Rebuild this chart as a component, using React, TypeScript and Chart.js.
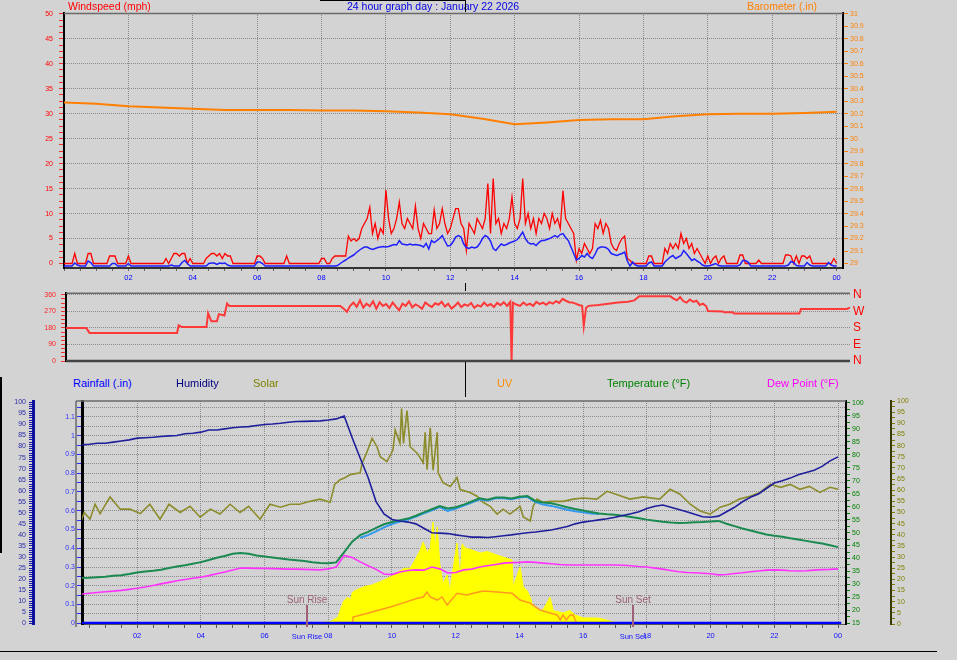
import React, { useEffect, useRef } from 'react';
import { Chart, registerables } from 'chart.js';

Chart.register(...registerables);

const FONT = '"Liberation Sans", Arial, Helvetica, sans-serif';
const BG = '#d3d3d3';
const GRID = '#8a8a8a';

// ---------------- Top panel: wind speed (mph), sampled every 5 minutes ----------------
const WIND_STEP_HOURS = 5 / 60;
const windGust = [
  0, 0, 0, 0, 2, 0, 0, 0, 0, 2, 2, 0,
  0, 0, 0, 0, 0, 1.5, 1.5, 1.5, 0, 0, 0, 0,
  1.5, 0, 0, 0, 0, 0, 0, 0, 0, 0, 0, 0,
  0, 0, 1, 0, 1, 2, 2, 1.5, 2, 2, 0, 1,
  0, 0, 0, 0, 0, 1, 1.5, 2, 2, 1.5, 2, 1,
  2, 1.5, 1.5, 0, 0, 0, 0, 0, 0, 0, 0, 0,
  1.5, 1.5, 1, 0, 0, 0, 0, 0, 0, 0, 0, 1.5,
  0, 0, 0, 0, 0, 0, 0, 0, 0, 0, 0, 0,
  1, 1, 0, 0, 1, 1.5, 1.5, 1.5, 1.5, 1.5, 5.5, 4.5,
  5, 4.5, 5, 7, 8, 9, 11.3, 6, 8, 5, 7, 6,
  14.7, 9, 6, 7, 9, 12.3, 8, 7, 9, 8, 7, 11.5,
  7, 5, 8, 7, 6, 6, 10.7, 7, 8, 11, 8, 6,
  7, 9, 11, 11, 8, 7, 2.6, 8, 7, 6, 9, 8,
  7, 9, 16, 6, 17, 8, 9, 6, 8, 7, 9, 13.3,
  8, 7, 9, 17, 8, 10, 7, 9, 6, 9, 8, 10,
  9, 7, 10, 8, 9, 7, 14.6, 9, 8, 7, 6, 0.6,
  3, 2, 4, 3, 2, 3, 8, 7, 8.6, 6, 8, 7,
  4, 3, 2.6, 4, 5, 5.5, 1, 0.6, 0, 0, 0, 0,
  0, 0, 1.5, 1.5, 0, 0, 0, 0, 3, 2, 4, 3,
  4, 3, 6, 4, 5, 3, 4, 2, 3, 2, 1, 0,
  1.5, 0, 1, 1.5, 0, 1, 1.5, 0, 0, 0, 0, 0,
  1.7, 1.7, 0, 0, 0, 0, 0, 0.7, 0, 0, 0, 0,
  0, 0, 0, 0, 0, 1.7, 1.7, 1.5, 0, 1.5, 0, 1.5,
  1.5, 1, 1.5, 0, 0, 0, 0, 0, 0, 0, 0, 1,
  0,
];
const windAverage = [
  -0.5, -0.5, -0.5, -0.5, 0.1, -0.3, -0.5, -0.5, -0.5, 0.5, 0.2, -0.5,
  -0.5, -0.5, -0.5, -0.5, -0.5, -0.5, 0, 0, -0.5, -0.5, -0.5, -0.5,
  0, -0.5, -0.5, -0.5, -0.5, -0.5, -0.5, -0.5, -0.5, -0.5, -0.5, -0.5,
  -0.5, -0.5, -0.5, -0.5, -0.3, -0.5, -0.5, -0.5, 0.2, 0.6, 0, -0.5,
  -0.5, -0.5, -0.5, -0.5, -0.5, -0.5, 0, 0.1, 0.1, -0.2, 0.1, 0,
  0.1, -0.3, -0.5, -0.5, -0.5, -0.5, -0.5, -0.5, -0.5, -0.5, -0.5, -0.5,
  0.3, 0.3, 0, -0.5, -0.5, -0.5, -0.5, -0.5, -0.5, -0.5, -0.5, -0.5,
  -0.5, -0.5, -0.5, -0.5, -0.5, -0.5, -0.5, -0.5, -0.5, -0.5, -0.5, -0.5,
  -0.5, -0.5, -0.5, -0.5, -0.5, -0.5, -0.4, 0, 0.4, 0.7, 1.1, 1.4,
  1.7, 2.2, 2.6, 3, 3.3, 3.3, 3, 2.8, 3, 3.2, 3.3, 3.4,
  3.3, 3.4, 3.6, 3.8, 3.7, 4.6, 3.9, 3.8, 3.7, 3.9, 3.7, 3.8,
  3.7, 3.6, 3.3, 4.0, 2.9, 4.6, 4.2, 4.6, 5.0, 5.6, 4.5, 3.5,
  3.6, 4.3, 5.3, 5.6, 5.3, 3.9, 3.2, 3.0, 3.3, 3.1, 3.3, 4.0,
  5.0, 5.6, 5.3, 4.5, 3.0, 2.6, 3.3, 3.9, 3.6, 3.8, 4.1, 4.3,
  4.5, 4.8, 5.5, 6.3, 5.0, 4.2, 3.9, 4.0, 3.6, 4.2, 4.6, 4.6,
  4.8, 5.0, 5.3, 5.6, 5.3, 5.8, 6.0, 5.2, 4.6, 3.3, 2.0, 0.7,
  1.0, 1.6, 1.3, 2.0, 1.3, 1.0, 1.9, 3.0, 3.3, 3.3, 3.2, 2.8,
  2.0, 1.8, 1.6, 1.8, 2.0, 2.3, 0.5, -0.5, 0.3, -0.3, -0.5, -0.5,
  -0.5, -0.5, 0.1, 0.3, -0.5, -0.5, -0.5, -0.5, 0.3, 0.8, 1.3, 1.6,
  1.0, 1.3, 1.6, 2.6, 2.0, 1.3, 0.6, 0.9, 0.5, 0.2, -0.3, -0.5,
  -0.5, -0.4, -0.2, 0, -0.4, -0.5, -0.5, -0.5, -0.5, -0.5, -0.5, -0.5,
  -0.3, 0.6, 0.6, 0.3, -0.5, -0.5, -0.5, -0.5, -0.5, -0.5, -0.5, -0.5,
  -0.5, -0.5, -0.5, -0.5, -0.5, -0.5, -0.3, 0.4, 0.2, -0.4, -0.5, -0.5,
  -0.5, 0.2, -0.3, -0.5, -0.5, -0.5, -0.5, -0.5, -0.5, 0.2, -0.3, -0.5,
  -0.5,
];
// Barometer (in), hourly
const baroHours = [0, 1, 2, 3, 4, 5, 6, 7, 8, 9, 10, 11, 12, 13, 14, 15, 16, 17, 18, 19, 20, 21, 22, 23, 24];
const baroInches = [30.29, 30.28, 30.26, 30.25, 30.24, 30.23, 30.23, 30.23, 30.225, 30.225, 30.22, 30.21, 30.195, 30.16, 30.115, 30.13, 30.15, 30.155, 30.155, 30.18, 30.195, 30.2, 30.2, 30.205, 30.215];

// ---------------- Middle panel: wind direction (degrees) [hour, deg] ----------------
const windDirection: [number, number][] = [
  [0, 180], [0.62, 180], [0.72, 153], [3.4, 153], [3.45, 195], [3.55, 185], [4.3, 185], [4.35, 260], [4.45, 216], [4.62, 216], [4.68, 255], [4.85, 248], [4.93, 313], [5.0, 300], [8.4, 300],
  [8.5, 285], [8.6, 268], [8.7, 300], [8.8, 318], [8.9, 295], [9.0, 330], [9.1, 290], [9.2, 312], [9.3, 298], [9.4, 325], [9.5, 285], [9.6, 320], [9.7, 300], [9.8, 310], [9.9, 288],
  [10.0, 318], [10.1, 296], [10.2, 276], [10.3, 312], [10.4, 300], [10.5, 325], [10.6, 292], [10.7, 308], [10.8, 298], [10.9, 284],
  [11.0, 318], [11.1, 304], [11.2, 294], [11.3, 314], [11.4, 306], [11.5, 322], [11.6, 296], [11.7, 312], [11.8, 286], [11.9, 300],
  [12.0, 318], [12.1, 294], [12.2, 308], [12.3, 300], [12.4, 316], [12.5, 290], [12.6, 304], [12.7, 296], [12.8, 318], [12.9, 300],
  [13.0, 310], [13.1, 294], [13.2, 316], [13.3, 304], [13.4, 320], [13.5, 300], [13.6, 322], [13.64, 0], [13.68, 318], [13.8, 306], [13.9, 300],
  [14.0, 318], [14.1, 304], [14.2, 312], [14.3, 300], [14.4, 322], [14.5, 310], [14.6, 318], [14.7, 306], [14.8, 320], [14.9, 312],
  [15.0, 326], [15.1, 316], [15.2, 338], [15.3, 328], [15.4, 320], [15.5, 318], [15.6, 312], [15.7, 305], [15.8, 300], [15.85, 190], [15.92, 290],
  [16.0, 300], [16.3, 305], [16.6, 312], [16.9, 318], [17.2, 322], [17.4, 330], [17.55, 352], [18.5, 352], [18.6, 340], [18.7, 330], [18.8, 348], [18.9, 325],
  [19.0, 318], [19.1, 335], [19.2, 322], [19.3, 328], [19.4, 305], [19.5, 312], [19.6, 298], [19.65, 272], [20.1, 270], [20.15, 265], [20.4, 265], [20.45, 258],
  [22.45, 258], [22.5, 283], [23.9, 283], [24.0, 290],
];

// ---------------- Bottom panel ----------------
const BOTTOM_START = 0.25;
const BOTTOM_STEP = 0.25;
const humidity = [
  80.7, 81, 81.5, 81.5, 82, 82.5, 83, 83.8,
  84, 84.2, 84.5, 84.8, 85, 85.8, 86, 86.5,
  87.5, 87.5, 88, 88.5, 88.8, 89, 89.5, 90,
  90.2, 90.5, 91, 91.3, 91.4, 91.5, 91.6, 92,
  92.5, 93.8, 84, 74.8, 66, 55, 49.5, 47,
  46.3, 45.8, 45, 43, 41, 40.8, 40.6, 40,
  39.5, 39, 39, 38.8, 39.2, 39.6, 40, 40.5,
  41, 41.3, 41.8, 42.2, 43, 43.8, 45, 45.8,
  46.3, 46.8, 47.3, 48, 48.8, 49.6, 50.5, 52,
  53, 53.5, 52.5, 51.5, 50.5, 49.3, 48.2, 48,
  48.5, 50.5, 52.5, 55, 57, 58.5, 61, 63.5,
  64.5, 65.7, 67.2, 68.2, 69.3, 71, 73.5, 75.3,
];
const temperature = [
  32.5, 32.6, 32.8, 33, 33.3, 33.5, 34, 34.6,
  35, 35.3, 35.7, 36.3, 36.9, 37.4, 38, 38.6,
  39.4, 40.3, 41, 41.8, 42.1, 41.8, 41.2, 40.8,
  40.4, 40, 39.6, 39.3, 39, 38.6, 38.3, 38.2,
  38.5, 42.5, 46.5, 49, 50.3, 51.8, 53.2, 54.1,
  54.8, 55.4, 56.5, 57.8, 59, 60.2, 59.3, 59.8,
  60.8, 62, 63.2, 62.7, 63.5, 63.5, 63.2, 63.8,
  64.1, 62.2, 61.6, 61.3, 60.6, 59.8, 59.1, 58.5,
  57.9, 57.4, 57.1, 56.9, 56.5, 56, 55.5, 55,
  54.6, 54.2, 53.9, 53.7, 53.8, 54, 54.1, 54.3,
  54.5, 53.4, 52.5, 51.6, 50.8, 50, 49.3, 48.8,
  48.4, 47.8, 47.3, 46.8, 46.3, 45.8, 45.1, 44.4,
];
const dewPoint = [
  26.3, 26.6, 26.9, 27.2, 27.4, 27.7, 28.1, 28.5,
  29, 29.6, 30.2, 30.8, 31.4, 31.9, 32.4, 32.8,
  33.4, 34.1, 34.8, 35.6, 36.3, 36.3, 36.2, 36.2,
  36.1, 36, 35.9, 35.9, 35.8, 35.7, 35.6, 36,
  36.7, 41.2, 40.4, 38.7, 37.2, 35.8, 34, 33.8,
  34.8, 35.4, 35.6, 35.5, 36.7, 36, 34.4, 34.6,
  35.6, 35.9, 36.7, 37.2, 37.7, 38.2, 38.4, 38.5,
  38.7, 38.5, 38.2, 38, 37.7, 37.5, 37.5, 37.5,
  37.5, 37.5, 37.5, 37.5, 37.4, 37.2, 36.9, 36.7,
  36.3, 35.9, 35.4, 34.9, 34.6, 34.5, 34.3, 34.1,
  33.7, 33.8, 34.2, 34.5, 34.9, 35.2, 35.5, 35.6,
  35.5, 35.3, 35.2, 35.3, 35.5, 35.7, 35.8, 36,
];
const feelsLike: [number, number][] = [
  [9.0, 48], [9.25, 49], [9.5, 50.5], [9.75, 52], [10.0, 53.3], [10.25, 54.3], [10.5, 55], [10.75, 56.2], [11.0, 57.4], [11.25, 58.6],
  [11.5, 59.8], [11.75, 58.4], [12.0, 59.3], [12.25, 60.4], [12.5, 61.6], [12.75, 62.8], [13.0, 62.4], [13.25, 63.2], [13.5, 63.2], [13.75, 62.9],
  [14.0, 63.5], [14.25, 63.8], [14.5, 61.8], [14.75, 60.8], [15.0, 60.3], [15.25, 59.6], [15.5, 58.8], [15.75, 58.2], [16.0, 57.8], [16.25, 57.4], [16.5, 57.2],
];
const olivePercent: [number, number][] = [
  [0.21, 44.8], [0.34, 50], [0.52, 47], [0.68, 53.7], [0.84, 49.5], [1.15, 57], [1.47, 51.5], [1.78, 51.5], [2.1, 49.5], [2.4, 53.7],
  [2.72, 47], [3.0, 53.7], [3.35, 50], [3.66, 52.8], [3.98, 47.9], [4.3, 51.5], [4.6, 49.3], [4.92, 53.7], [5.23, 50], [5.5, 52.8],
  [5.86, 47], [6.17, 53.7], [6.5, 52.4], [6.8, 53.7], [7.1, 53.7], [7.43, 55], [7.74, 56], [8.06, 54.6], [8.2, 62.6], [8.37, 64.7],
  [8.52, 65.6], [8.69, 67], [9.0, 67.8], [9.06, 72], [9.2, 76.6], [9.375, 83.3], [9.53, 79.5], [9.63, 75], [9.84, 72.8], [10.03, 78],
  [10.1, 87], [10.25, 81], [10.3, 96.6], [10.36, 81], [10.47, 95.7], [10.57, 79.5], [10.79, 76.6], [10.98, 72.3], [11.04, 86], [11.1, 69.2],
  [11.2, 88], [11.29, 69], [11.42, 86], [11.45, 67.8], [11.6, 63.4], [11.83, 61.7], [12.04, 65.7], [12.14, 60.3], [12.45, 59], [12.67, 57.3],
  [12.86, 54.6], [13.08, 52.8], [13.3, 49.3], [13.49, 51.5], [13.7, 49.3], [14.02, 52.8], [14.12, 48], [14.34, 46.2], [14.43, 52.8], [14.55, 56],
  [14.74, 54.6], [14.96, 55], [15.37, 55], [15.69, 56], [16.0, 56.5], [16.43, 56], [16.75, 59.5], [17.07, 58], [17.47, 56], [17.88, 57],
  [18.4, 56], [18.73, 60.4], [19.04, 58.2], [19.36, 53.7], [19.67, 50.7], [19.98, 49.3], [20.3, 52.4], [20.6, 53.7], [20.9, 56], [21.24, 57.3],
  [21.55, 59], [21.87, 62.6], [22.2, 61.3], [22.5, 62.6], [22.8, 60.4], [23.1, 61.7], [23.43, 59], [23.75, 61.3], [24.0, 60.4],
];
const solar: [number, number][] = [
  [7.1, 0], [7.65, 0.5], [8.06, 1], [8.3, 3], [8.47, 10], [8.6, 12], [8.7, 11], [8.75, 14], [8.84, 15], [9.0, 16],
  [9.1, 16.6], [9.2, 17], [9.37, 17.5], [9.63, 19], [9.94, 21], [10.15, 23], [10.4, 25], [10.57, 25], [10.7, 28], [10.88, 33],
  [10.98, 36.8], [11.1, 32], [11.2, 34], [11.29, 45.7], [11.35, 33], [11.42, 43.5], [11.5, 27], [11.6, 18], [11.73, 22], [11.82, 15],
  [11.92, 25], [12.04, 36.3], [12.14, 20], [12.2, 36], [12.3, 34], [12.45, 33.5], [12.77, 31.8], [12.99, 32.5], [13.3, 30.9], [13.49, 30],
  [13.7, 29], [13.77, 28.7], [13.8, 16.6], [14.02, 25.5], [14.12, 16.6], [14.24, 15], [14.34, 12], [14.43, 7.6], [14.65, 6], [14.74, 6.3],
  [14.96, 12], [15.06, 6], [15.37, 5], [15.59, 6], [15.75, 4], [16.0, 2.7], [16.43, 2.7], [16.68, 2], [16.94, 0.9], [17.16, 0.3], [17.3, 0],
];
const uvIndex: [number, number][] = [
  [8.75, 0], [8.78, 0.5], [9.2, 0.75], [9.6, 1.0], [10.0, 1.25], [10.4, 1.55], [10.8, 1.85], [10.98, 1.94], [11.1, 2.3], [11.2, 1.94],
  [11.42, 1.72], [11.57, 1.94], [11.73, 1.36], [12.04, 2.2], [12.35, 2.08], [12.55, 2.2], [12.86, 2.37], [13.3, 2.3], [13.77, 2.2], [14.02, 1.72],
  [14.34, 1.5], [14.65, 1.0], [14.96, 0.79], [15.18, 0.65], [15.28, 0.29], [15.37, 0.65], [15.47, 0.29], [15.59, 0.65], [15.69, 0.65], [15.8, 0],
];
const rainfall: [number, number][] = [[0.25, 0], [24.1, 0]];
const SUNRISE_HOUR = 7.33;
const SUNSET_HOUR = 17.56;

// ---------------- helpers ----------------
const isMult = (v: number, m: number) => Math.abs(v / m - Math.round(v / m)) < 1e-6;
const fromGrid = (arr: number[], start: number, step: number) => arr.map((v, i) => ({ x: start + i * step, y: v }));
const fromPairs = (arr: [number, number][]) => arr.map(([x, y]) => ({ x, y }));
const evenHour = (v: any) => typeof v === 'number' && v > 0.01 && isMult(v, 2);
const hourLabel = (v: any) => (evenHour(v) ? String(Math.round(v) % 24).padStart(2, '0') : '');
const tickFont = { family: FONT, size: 7 };
const clear = 'rgba(0,0,0,0)';

function line(ctx: CanvasRenderingContext2D, x1: number, y1: number, x2: number, y2: number) {
  ctx.beginPath();
  ctx.moveTo(x1, y1);
  ctx.lineTo(x2, y2);
  ctx.stroke();
}

const topFrame = {
  id: 'topFrame',
  afterDraw(chart: any) {
    const { ctx, chartArea: a } = chart;
    ctx.save();
    ctx.strokeStyle = '#6a6a6a';
    ctx.lineWidth = 1.5;
    line(ctx, a.left, a.top + 0.5, a.right, a.top + 0.5);
    ctx.restore();
  },
};

const midFrame = {
  id: 'midFrame',
  afterDraw(chart: any) {
    const { ctx, chartArea: a } = chart;
    ctx.save();
    ctx.strokeStyle = '#6a6a6a';
    ctx.lineWidth = 1.5;
    line(ctx, a.left, a.top, a.right, a.top);
    ctx.strokeStyle = '#444';
    ctx.lineWidth = 2.5;
    line(ctx, a.left, a.bottom, a.right, a.bottom);
    ctx.restore();
  },
};

const bottomFrame = {
  id: 'bottomFrame',
  afterDraw(chart: any) {
    const { ctx, chartArea: a, scales } = chart;
    ctx.save();
    ctx.strokeStyle = '#6a6a6a';
    ctx.lineWidth = 1.5;
    line(ctx, a.left - 6, a.top, a.right, a.top);
    line(ctx, a.left - 6, a.top, a.left - 6, a.bottom + 3);
    const marks: [number, string][] = [[SUNRISE_HOUR, 'Sun Rise'], [SUNSET_HOUR, 'Sun Set']];
    for (const [h, label] of marks) {
      const px = Math.round(scales.x.getPixelForValue(h));
      ctx.strokeStyle = '#a0607a';
      ctx.lineWidth = 2;
      line(ctx, px, a.bottom - 19, px, a.bottom + 3);
      ctx.textAlign = 'center';
      ctx.textBaseline = 'middle';
      ctx.fillStyle = '#9a6070';
      ctx.font = `10px ${FONT}`;
      ctx.fillText(label, px, a.bottom - 24);
      ctx.fillStyle = '#1010ff';
      ctx.font = `7.5px ${FONT}`;
      ctx.fillText(label, px, a.bottom + 13);
    }
    ctx.restore();
  },
};

function topConfig(): any {
  return {
    type: 'line',
    data: {
      datasets: [
        { label: 'Average', data: fromGrid(windAverage, 0, WIND_STEP_HOURS), yAxisID: 'yWind', borderColor: '#1f1fff', borderWidth: 1.5, pointRadius: 0, order: 0 },
        { label: 'Gust', data: fromGrid(windGust, 0, WIND_STEP_HOURS), yAxisID: 'yWind', borderColor: '#ff0000', borderWidth: 1.3, pointRadius: 0, order: 1 },
        { label: 'Barometer', data: baroHours.map((h, i) => ({ x: h, y: baroInches[i] })), yAxisID: 'yBaro', borderColor: '#ff8000', borderWidth: 2, pointRadius: 0, order: 2 },
      ],
    },
    options: {
      animation: false,
      responsive: false,
      maintainAspectRatio: false,
      events: [],
      layout: { padding: { top: 13, right: 84, bottom: 1, left: 0 } },
      plugins: { legend: { display: false }, tooltip: { enabled: false } },
      elements: { line: { tension: 0 } },
      scales: {
        x: {
          type: 'linear', min: 0, max: 24.2,
          afterFit: (s: any) => { s.height = 16; },
          ticks: { stepSize: 0.5, autoSkip: false, maxRotation: 0, includeBounds: false, color: '#0000ff', font: { family: FONT, size: 7.5 }, padding: 2, callback: hourLabel },
          grid: { color: (c: any) => (c.tick && evenHour(c.tick.value) ? GRID : clear), lineWidth: 1, tickLength: 3, tickColor: '#666' },
          border: { color: '#333', width: 2, dash: [1, 1] },
        },
        yWind: {
          position: 'left', min: -0.9, max: 50.16,
          afterFit: (s: any) => { s.width = 64; },
          ticks: { stepSize: 1.25, autoSkip: false, includeBounds: false, color: '#ff0000', font: tickFont, padding: 6, callback: (v: number) => (isMult(v, 5) ? String(Math.round(v)) : '') },
          grid: { color: (c: any) => (c.tick && isMult(c.tick.value, 5) && c.tick.value > 0 ? GRID : clear), tickLength: 5, tickColor: '#ff3030' },
          border: { color: '#000', width: 2, dash: [1, 1] },
        },
        yBaro: {
          position: 'right', min: 28.964, max: 31.0064,
          afterFit: (s: any) => { s.width = 30; },
          ticks: { stepSize: 0.1, autoSkip: false, includeBounds: false, color: '#ff8000', font: tickFont, padding: 2, callback: (v: number) => String(Math.round(v * 10) / 10) },
          grid: { drawOnChartArea: false, tickLength: 5, tickColor: '#ff8000' },
          border: { color: '#000', width: 2 },
        },
      },
    },
    plugins: [topFrame],
  };
}

const compass: Record<number, string> = { 0: 'N', 90: 'E', 180: 'S', 270: 'W', 360: 'N' };

function midConfig(): any {
  return {
    type: 'line',
    data: {
      datasets: [
        { label: 'Direction', data: fromPairs(windDirection), yAxisID: 'yDir', borderColor: '#ff3838', borderWidth: 2, pointRadius: 0 },
      ],
    },
    options: {
      animation: false,
      responsive: false,
      maintainAspectRatio: false,
      events: [],
      layout: { padding: { top: 8, right: 77, bottom: 12, left: 0 } },
      plugins: { legend: { display: false }, tooltip: { enabled: false } },
      elements: { line: { tension: 0 } },
      scales: {
        x: { type: 'linear', min: 0, max: 24, display: false },
        yDir: {
          position: 'left', min: 0, max: 369,
          afterFit: (s: any) => { s.width = 66; },
          ticks: { stepSize: 22.5, autoSkip: false, includeBounds: false, color: '#ff2020', font: tickFont, padding: 5, callback: (v: number) => (isMult(v, 90) ? String(Math.round(v)) : '') },
          grid: { color: (c: any) => (c.tick && isMult(c.tick.value, 90) && c.tick.value > 0 ? GRID : clear), tickLength: 5, tickColor: '#ff3030' },
          border: { color: '#000', width: 2, dash: [1, 1] },
        },
        yCompass: {
          position: 'right', min: 0, max: 369,
          afterFit: (s: any) => { s.width = 30; },
          ticks: { stepSize: 90, autoSkip: false, includeBounds: false, color: '#ff0000', font: { family: FONT, size: 12 }, padding: 3, callback: (v: number) => compass[Math.round(v)] ?? '' },
          grid: { display: false, drawTicks: false },
          border: { display: false },
        },
      },
    },
    plugins: [midFrame],
  };
}

function bottomConfig(): any {
  const base = { pointRadius: 0, tension: 0 };
  return {
    type: 'line',
    data: {
      datasets: [
        { ...base, label: 'Rainfall', data: fromPairs(rainfall), yAxisID: 'yRain', borderColor: '#0000ff', borderWidth: 3, order: 0 },
        { ...base, label: 'Humidity', data: fromGrid(humidity, BOTTOM_START, BOTTOM_STEP), yAxisID: 'yHum', borderColor: '#1f1f9c', borderWidth: 1.6, order: 1 },
        { ...base, label: 'Temperature', data: fromGrid(temperature, BOTTOM_START, BOTTOM_STEP), yAxisID: 'yTemp', borderColor: '#1a8a50', borderWidth: 2, order: 2 },
        { ...base, label: 'Feels like', data: fromPairs(feelsLike), yAxisID: 'yTemp', borderColor: '#3399ee', borderWidth: 2, order: 3 },
        { ...base, label: 'Olive', data: fromPairs(olivePercent), yAxisID: 'yOlive', borderColor: '#8c8c2c', borderWidth: 1.6, order: 4 },
        { ...base, label: 'Dew Point', data: fromGrid(dewPoint, BOTTOM_START, BOTTOM_STEP), yAxisID: 'yTemp', borderColor: '#ff33ff', borderWidth: 1.6, order: 5 },
        { ...base, label: 'UV', data: fromPairs(uvIndex), yAxisID: 'yUV', borderColor: '#ff9922', borderWidth: 1.5, order: 6 },
        { ...base, label: 'Solar', data: fromPairs(solar), yAxisID: 'yOlive', borderColor: '#ffff00', backgroundColor: '#ffff00', borderWidth: 1, fill: 'origin', order: 7 },
      ],
    },
    options: {
      animation: false,
      responsive: false,
      maintainAspectRatio: false,
      events: [],
      layout: { padding: { top: 9, right: 36, bottom: 6, left: 0 } },
      plugins: { legend: { display: false }, tooltip: { enabled: false } },
      scales: {
        x: {
          type: 'linear', min: 0.27, max: 24.25,
          afterFit: (s: any) => { s.height = 30; },
          ticks: { stepSize: 0.5, autoSkip: false, maxRotation: 0, includeBounds: false, color: '#1010ff', font: { family: FONT, size: 7.5 }, padding: 3, callback: hourLabel },
          grid: { color: (c: any) => (c.tick && evenHour(c.tick.value) ? GRID : clear), lineWidth: 1, tickLength: 4, tickColor: '#555' },
          border: { color: '#555', width: 1, dash: [1, 1] },
        },
        yHum: {
          position: 'left', weight: 2, min: -0.32, max: 100.6,
          afterFit: (s: any) => { s.width = 33; },
          ticks: { stepSize: 1, autoSkip: false, includeBounds: false, color: '#2a2aa8', font: tickFont, padding: 3, callback: (v: number) => (isMult(v, 5) ? String(Math.round(v)) : '') },
          grid: { drawOnChartArea: false, tickLength: 4, tickColor: '#1a1aa0' },
          border: { color: '#1010a0', width: 3 },
        },
        yRain: {
          position: 'left', weight: 1, min: -0.0037, max: 1.185,
          afterFit: (s: any) => { s.width = 49; },
          ticks: { stepSize: 0.05, autoSkip: false, includeBounds: false, color: '#3030ff', font: tickFont, padding: 2, callback: (v: number) => (isMult(v, 0.1) ? String(Math.round(v * 10) / 10) : '') },
          grid: { color: (c: any) => (c.tick && c.tick.value > 0.001 ? GRID : clear), tickLength: 5, tickColor: '#3030ff' },
          border: { color: '#000', width: 3, dash: [1, 1] },
        },
        yTemp: {
          position: 'right', weight: 1, min: 14.73, max: 100.77,
          afterFit: (s: any) => { s.width = 45; },
          ticks: { stepSize: 2.5, autoSkip: false, includeBounds: false, color: '#008000', font: tickFont, padding: 2, callback: (v: number) => (isMult(v, 5) ? String(Math.round(v)) : '') },
          grid: { drawOnChartArea: false, tickLength: 4, tickColor: '#008000' },
          border: { color: '#000', width: 2 },
        },
        yOlive: {
          position: 'right', weight: 2, min: 0, max: 100,
          afterFit: (s: any) => { s.width = 30; },
          ticks: { stepSize: 2.5, autoSkip: false, includeBounds: false, color: '#808000', font: tickFont, padding: 2, callback: (v: number) => (isMult(v, 5) ? String(Math.round(v)) : '') },
          grid: { drawOnChartArea: false, tickLength: 4, tickColor: '#808000' },
          border: { color: '#3a3a00', width: 2 },
        },
        yUV: { display: false, min: 0, max: 16 },
      },
    },
    plugins: [bottomFrame],
  };
}

const text = (left: number, top: number, color: string, s: string, size = 11) => (
  <div style={{ position: 'absolute', left, top, color, font: `${size}px ${FONT}`, lineHeight: '12px', whiteSpace: 'nowrap' }}>{s}</div>
);
const bar = (left: number, top: number, width: number, height: number) => (
  <div style={{ position: 'absolute', left, top, width, height, background: '#000' }} />
);

export default function App() {
  const topRef = useRef<HTMLCanvasElement>(null);
  const midRef = useRef<HTMLCanvasElement>(null);
  const botRef = useRef<HTMLCanvasElement>(null);

  useEffect(() => {
    const charts = [
      new Chart(topRef.current as HTMLCanvasElement, topConfig()),
      new Chart(midRef.current as HTMLCanvasElement, midConfig()),
      new Chart(botRef.current as HTMLCanvasElement, bottomConfig()),
    ];
    return () => charts.forEach((c) => c.destroy());
  }, []);

  return (
    <div style={{ position: 'fixed', left: 0, top: 0, width: 957, height: 660, background: BG, overflow: 'hidden' }}>
      <canvas ref={topRef} width={957} height={285} style={{ position: 'absolute', left: 0, top: 0 }} />
      <canvas ref={midRef} width={957} height={90} style={{ position: 'absolute', left: 0, top: 283 }} />
      <canvas ref={botRef} width={957} height={268} style={{ position: 'absolute', left: 0, top: 392 }} />
      {text(68, 0, '#ff0000', 'Windspeed (mph)', 10.5)}
      {text(347, 0, '#0000e6', '24 hour graph day : January 22 2026', 10.5)}
      {text(747, 0, '#ff8000', 'Barometer (.in)', 10.5)}
      {text(73, 377, '#0000ff', 'Rainfall (.in)')}
      {text(176, 377, '#000080', 'Humidity')}
      {text(253, 377, '#808000', 'Solar')}
      {text(497, 377, '#ff8c00', 'UV')}
      {text(607, 377, '#008000', 'Temperature (°F)')}
      {text(767, 377, '#ff00ff', 'Dew Point (°F)')}
      {bar(320, 0, 146, 1)}
      {bar(465, 0, 1, 12)}
      {bar(465, 283, 1, 8)}
      {bar(465, 362, 1, 35)}
      {bar(0, 377, 2, 176)}
      {bar(0, 651, 937, 1)}
    </div>
  );
}
